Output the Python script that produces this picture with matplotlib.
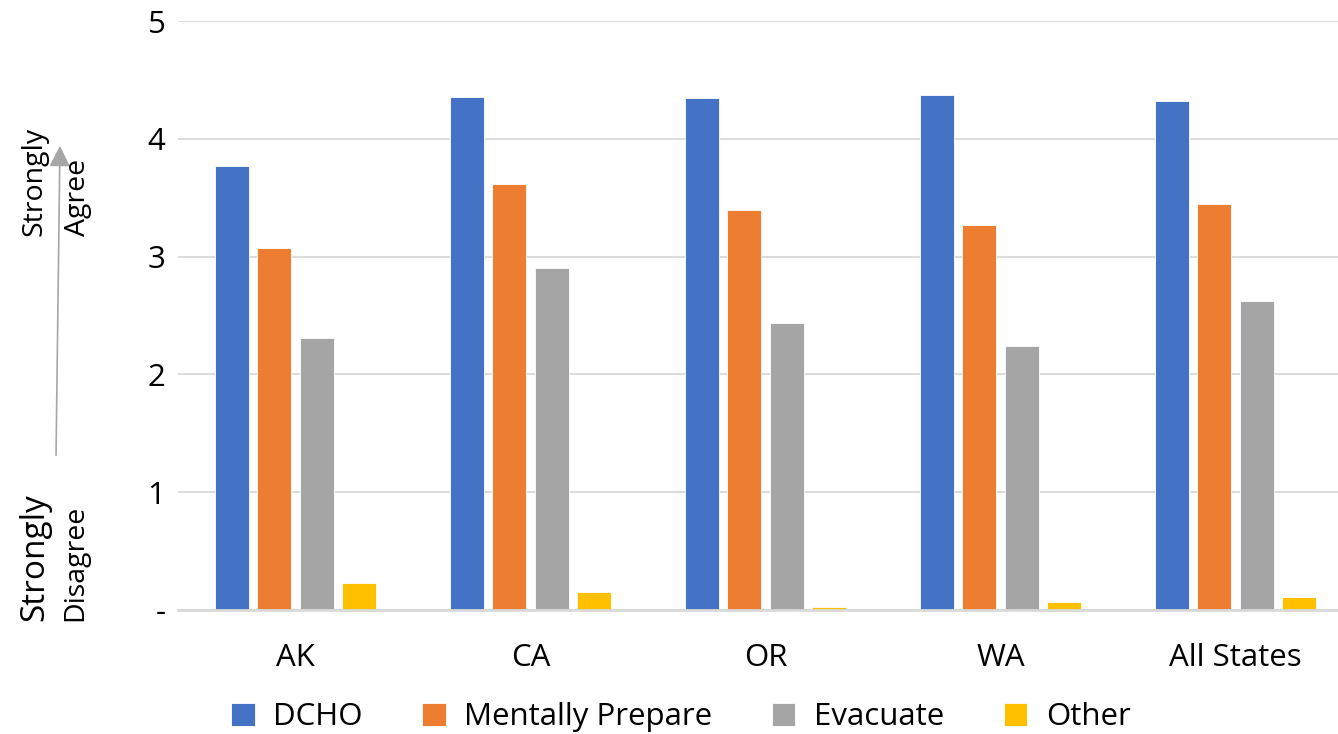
import matplotlib
matplotlib.use("Agg")
import matplotlib.pyplot as plt
import numpy as np

categories = ["AK", "CA", "OR", "WA", "All States"]
series_names = ["DCHO", "Mentally Prepare", "Evacuate", "Other"]
dcho = [3.77, 4.36, 4.35, 4.37, 4.32]
mentally = [3.07, 3.62, 3.40, 3.27, 3.45]
evacuate = [2.31, 2.90, 2.44, 2.24, 2.62]
other = [0.23, 0.15, 0.02, 0.07, 0.11]
yticks = [0, 1, 2, 3, 4, 5]
ytick_labels = ["-", "1", "2", "3", "4", "5"]
colors = ["#4472C4", "#ED7D31", "#A5A5A5", "#FFC000"]

plt.rcParams['font.family'] = ['Open Sans', 'DejaVu Sans']
FS = 22.5

W, H = 1338, 734
fig = plt.figure(figsize=(W / 100, H / 100), dpi=100)
ax = fig.add_axes([178 / W, 1 - 609.8 / H, 1 - 178 / W, (609.8 - 21.3) / H])

x = np.arange(len(categories))
bw = 0.145
slot = 0.181
for i, (vals, name) in enumerate(zip([dcho, mentally, evacuate, other], series_names)):
    ax.bar(x + (i - 1.5) * slot, vals, bw, color=colors[i], label=name, zorder=3,
           edgecolor="white", linewidth=0.6)

ax.set_xlim(-0.5, 4.5 - 15 / 235)
ax.set_ylim(0, 5)
ax.set_yticks(yticks)
ax.set_yticklabels(ytick_labels)
ax.set_xticks(x)
ax.set_xticklabels(categories)
ax.tick_params(axis='both', length=0, labelsize=FS)
ax.tick_params(axis='y', pad=9)
ax.tick_params(axis='x', pad=24)
ax.grid(axis='y', color="#D9D9D9", linewidth=1.3, zorder=0)
for s in ["top", "right", "left"]:
    ax.spines[s].set_visible(False)
ax.spines["bottom"].set_color("#D9D9D9")
ax.spines["bottom"].set_linewidth(2)
ax.spines["bottom"].set_zorder(4)

leg = fig.legend(loc="center", bbox_to_anchor=(681 / W, 1 - 717 / H), ncol=4, frameon=False,
                 fontsize=FS, handlelength=0.75, handleheight=0.75, handletextpad=0.6,
                 columnspacing=1.9)

# side labels
fig.text(35 / W, 1 - 236 / H, "Strongly", rotation=90, fontsize=20.5, ha="center", va="bottom")
fig.text(78 / W, 1 - 236 / H, "Agree", rotation=90, fontsize=20.5, ha="center", va="bottom")
fig.text(35 / W, 1 - 621 / H, "Strongly", rotation=90, fontsize=24, ha="center", va="bottom")
fig.text(75 / W, 1 - 621 / H, "Disagree", rotation=90, fontsize=20.5, ha="center", va="bottom")

fig.add_artist(matplotlib.patches.FancyArrowPatch(
    (56 / W, 1 - 458 / H), (60 / W, 1 - 143 / H), transform=fig.transFigure,
    arrowstyle="-|>,head_length=8,head_width=4", color="#A6A6A6", linewidth=1.2,
    mutation_scale=1.6))

fig.savefig("out.png", dpi=100, facecolor="white")
